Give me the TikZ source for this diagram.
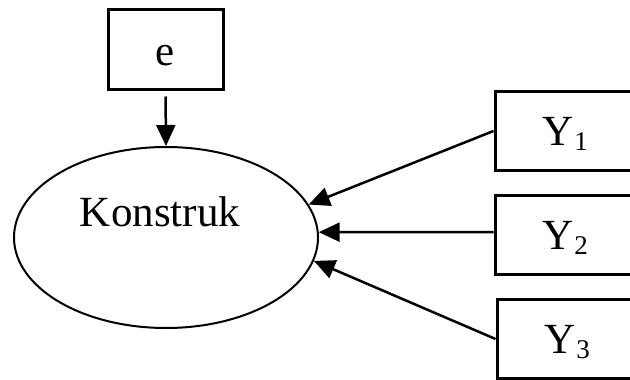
\documentclass[tikz,border=0pt]{standalone}
\usepackage{fontspec}
\setmainfont{Liberation Serif}
\usetikzlibrary{arrows.meta,shapes.geometric}
\tikzset{
  box/.style={draw, line width=3pt, minimum width=115pt, minimum height=80pt, inner sep=0pt, font=\fontsize{43}{43}\selectfont},
  ybox/.style={draw, line width=3pt, minimum width=140pt, minimum height=79pt, inner sep=0pt, text height=28pt, text depth=0pt, font=\fontsize{43}{43}\selectfont},
  conn/.style={line width=2.5pt, -{Triangle[length=21pt,width=19pt]}},
}
\newcommand{\ysub}[1]{Y\hspace{1pt}\raisebox{-5pt}{\fontsize{27}{27}\selectfont #1}}
\begin{document}
\begin{tikzpicture}[x=1pt,y=-1pt]
\useasboundingbox (0,0) rectangle (630,380);
\clip (0,0) rectangle (630,380);
\fill[white] (0,0) rectangle (630,380);
\node[box, text height=32pt, text depth=0pt] (e) at (165.5,49) {e};
\node[draw, ellipse, line width=2pt, minimum width=304pt, minimum height=181pt, inner sep=0pt] (k) at (166,237.5) {};
\node[anchor=base, font=\fontsize{43}{43}\selectfont, inner sep=0pt] (kt) at (160,226) {Konstruk};
\node[ybox] (y1) at (565,131) {\ysub{1}};
\node[ybox] (y2) at (565,235) {\ysub{2}};
\node[ybox] (y3) at (567,339) {\ysub{3}};
\draw[conn, shorten <=6pt] (e.south) -- (k.north);
\draw[conn] (y1.west) -- (k.13);
\draw[conn] ([yshift=3pt]y2.west) -- (k.2);
\draw[conn] (y3.west) -- (k.-9.5);
\end{tikzpicture}
\end{document}
